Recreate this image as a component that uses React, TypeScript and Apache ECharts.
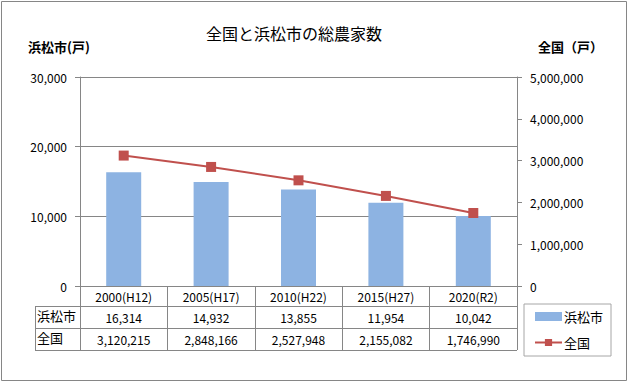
import React, { useEffect, useRef } from "react";
import * as echarts from "echarts";

const categories = ["2000(H12)", "2005(H17)", "2010(H22)", "2015(H27)", "2020(R2)"];
const hamamatsu = [16314, 14932, 13855, 11954, 10042];
const national = [3120215, 2848166, 2527948, 2155082, 1746990];
const seriesNames = ["浜松市", "全国"];
const titleText = "全国と浜松市の総農家数";
const leftAxisName = "浜松市(戸)";
const rightAxisName = "全国（戸）";

const FONT = "'Noto Sans CJK JP', 'Noto Sans', sans-serif";
const GRAY = "#868686";
const fmt = (v: number) => v.toLocaleString("en-US");

export default function App() {
  const ref = useRef<HTMLDivElement>(null);
  useEffect(() => {
    document.body.style.margin = "0";
    const chart = echarts.init(ref.current!, null, { renderer: "svg" });
    const tableLeft = 35;
    const gridL = 80;
    const gridR = 517;
    const option: any = {
      animation: false,
      backgroundColor: "#fff",
      textStyle: { fontFamily: FONT },
      title: {
        text: titleText,
        left: 206,
        top: 25,
        padding: 0,
        textStyle: { fontFamily: FONT, fontSize: 16, fontWeight: "normal", color: "#000" },
      },
      grid: { left: gridL, right: 629 - gridR, top: 77, bottom: 383 - 286 },
      legend: {
        orient: "vertical",
        left: 524,
        top: 304,
        padding: [6, 8, 7, 10],
        itemGap: 13,
        itemWidth: 27,
        itemHeight: 9,
        borderColor: "#a6a6a6",
        borderWidth: 1,
        data: [
          { name: seriesNames[0], icon: "rect" },
          { name: seriesNames[1] },
        ],
        textStyle: { fontFamily: FONT, fontSize: 13, color: "#000", padding: [0, 0, 0, -3] },
      },
      xAxis: [
        {
          type: "category",
          data: categories,
          axisLine: { show: true, lineStyle: { color: GRAY } },
          axisTick: { show: true, length: 64, lineStyle: { color: GRAY } },
          axisLabel: { interval: 0, margin: 4, fontSize: 12, color: "#000", fontFamily: FONT },
        },
        {
          type: "category",
          data: hamamatsu.map(fmt),
          position: "bottom",
          offset: 20,
          axisLine: { show: false },
          axisTick: { show: false },
          axisLabel: { interval: 0, margin: 5, fontSize: 12, color: "#000", fontFamily: FONT },
        },
        {
          type: "category",
          data: national.map(fmt),
          position: "bottom",
          offset: 42,
          axisLine: { show: false },
          axisTick: { show: false },
          axisLabel: { interval: 0, margin: 5, fontSize: 12, color: "#000", fontFamily: FONT },
        },
      ],
      yAxis: [
        {
          type: "value",
          min: 0,
          max: 30000,
          interval: 10000,
          axisLine: { show: true, lineStyle: { color: GRAY } },
          axisTick: { show: true, length: 5, lineStyle: { color: GRAY } },
          splitLine: { show: true, lineStyle: { color: GRAY } },
          axisLabel: { margin: 13, fontSize: 12, color: "#000", fontFamily: FONT, formatter: (v: number) => fmt(v) },
        },
        {
          type: "value",
          min: 0,
          max: 5000000,
          interval: 1000000,
          position: "right",
          axisLine: { show: true, lineStyle: { color: GRAY } },
          axisTick: { show: true, length: 5, lineStyle: { color: GRAY } },
          splitLine: { show: false },
          axisLabel: { margin: 13, fontSize: 12, color: "#000", fontFamily: FONT, formatter: (v: number) => fmt(v) },
        },
      ],
      series: [
        {
          name: seriesNames[0],
          type: "bar",
          xAxisIndex: 0,
          yAxisIndex: 0,
          data: hamamatsu,
          barWidth: 35,
          itemStyle: { color: "#8DB3E2" },
        },
        {
          name: seriesNames[1],
          type: "line",
          xAxisIndex: 0,
          yAxisIndex: 1,
          data: national,
          symbol: "rect",
          symbolSize: 10,
          lineStyle: { color: "#C0504D", width: 2 },
          itemStyle: { color: "#C0504D" },
        },
      ],
      graphic: [
        {
          type: "rect",
          silent: true,
          shape: { x: 1.5, y: 1.5, width: 625, height: 379 },
          style: { fill: "none", stroke: GRAY, lineWidth: 1 },
        },
        {
          type: "text",
          left: 28,
          top: 40,
          style: { text: leftAxisName, font: `bold 13px ${FONT}`, fill: "#000" },
        },
        {
          type: "text",
          left: 538,
          top: 40,
          style: { text: rightAxisName, font: `bold 13px ${FONT}`, fill: "#000" },
        },
        ...[306.5, 328.5, 350.5].map((y) => ({
          type: "line",
          silent: true,
          shape: { x1: tableLeft, y1: y, x2: gridR, y2: y },
          style: { stroke: GRAY, lineWidth: 1 },
        })),
        {
          type: "line",
          silent: true,
          shape: { x1: tableLeft + 0.5, y1: 306, x2: tableLeft + 0.5, y2: 351 },
          style: { stroke: GRAY, lineWidth: 1 },
        },
        {
          type: "text",
          left: 37,
          top: 309,
          style: { text: seriesNames[0], font: `13px ${FONT}`, fill: "#000" },
        },
        {
          type: "text",
          left: 37,
          top: 331,
          style: { text: seriesNames[1], font: `13px ${FONT}`, fill: "#000" },
        },
      ],
    };
    chart.setOption(option);
    return () => chart.dispose();
  }, []);
  return <div ref={ref} style={{ width: 629, height: 383 }} />;
}
